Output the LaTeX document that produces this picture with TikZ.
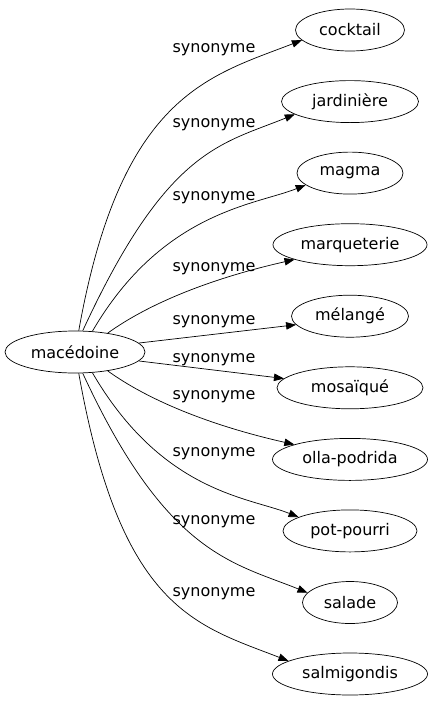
\documentclass[tikz,border=0pt]{standalone}
\usepackage{fontspec}
\setmainfont{DejaVu Sans}
\usetikzlibrary{shapes.geometric,arrows.meta}
\begin{document}
\begin{tikzpicture}
        [x=1pt, y=-1pt, word/.style={ellipse, draw, line width=0.7pt, minimum height=42pt, inner sep=0pt, font=\fontsize{16}{19}\selectfont},
        rel/.style={font=\fontsize{16}{19}\selectfont, inner sep=0pt},
        edge/.style={line width=0.7pt, black, -{Triangle[length=10pt,width=7.5pt]}}]

        \useasboundingbox (0,0) rectangle (433,707);

        \node[word, minimum width=140pt] (mac) at (75,352) {macédoine};
        \node[word, minimum width=109pt] (cocktail) at (350,30) {cocktail};
        \node[word, minimum width=137pt] (jardiniere) at (350,101.6) {jardinière};
        \node[word, minimum width=106pt] (magma) at (350,173.1) {magma};
        \node[word, minimum width=154pt] (marqueterie) at (350,244.7) {marqueterie};
        \node[word, minimum width=117pt] (melange) at (350,316.2) {mélangé};
        \node[word, minimum width=146pt] (mosaique) at (350,387.8) {mosaïqué};
        \node[word, minimum width=155pt] (olla) at (350,459.4) {olla-podrida};
        \node[word, minimum width=134pt] (potpourri) at (350,530.9) {pot-pourri};
        \node[word, minimum width=95pt] (salade) at (350,602.5) {salade};
        \node[word, minimum width=155pt] (salmigondis) at (350,674) {salmigondis};

        % edge labels
        \node[rel] (l1) at (214,50) {synonyme};
        \node[rel] (l2) at (214,125) {synonyme};
        \node[rel] (l3) at (214,198) {synonyme};
        \node[rel] (l4) at (214,269) {synonyme};
        \node[rel] (l5) at (214,322) {synonyme};
        \node[rel] (l6) at (214,360) {synonyme};
        \node[rel] (l7) at (214,397) {synonyme};
        \node[rel] (l8) at (214,454) {synonyme};
        \node[rel] (l9) at (214,522) {synonyme};
        \node[rel] (l10) at (214,594) {synonyme};

        % edges
        \draw[edge] (mac.80) .. controls +(42,-236) and +(-93,36) .. (cocktail.192);
        \draw[edge] (mac.70) .. controls +(84,-182) and +(-74,30) .. (jardiniere.193);
        \draw[edge] (mac.50) .. controls +(70,-120) and +(-50,20) .. (magma.195);
        \draw[edge] (mac.30) .. controls +(57,-41) and +(-49,11) .. (marqueterie.195);
        \draw[edge] (mac.8) -- (melange.189);
        \draw[edge] (mac.-8) -- (mosaique.172);
        \draw[edge] (mac.-30) .. controls +(57,41) and +(-49,-11) .. (olla.165);
        \draw[edge] (mac.-50) .. controls +(70,120) and +(-50,-20) .. (potpourri.165);
        \draw[edge] (mac.-70) .. controls +(84,182) and +(-74,-30) .. (salade.167);
        \draw[edge] (mac.-80) .. controls +(42,236) and +(-93,-36) .. (salmigondis.168);

\end{tikzpicture}
\end{document}
